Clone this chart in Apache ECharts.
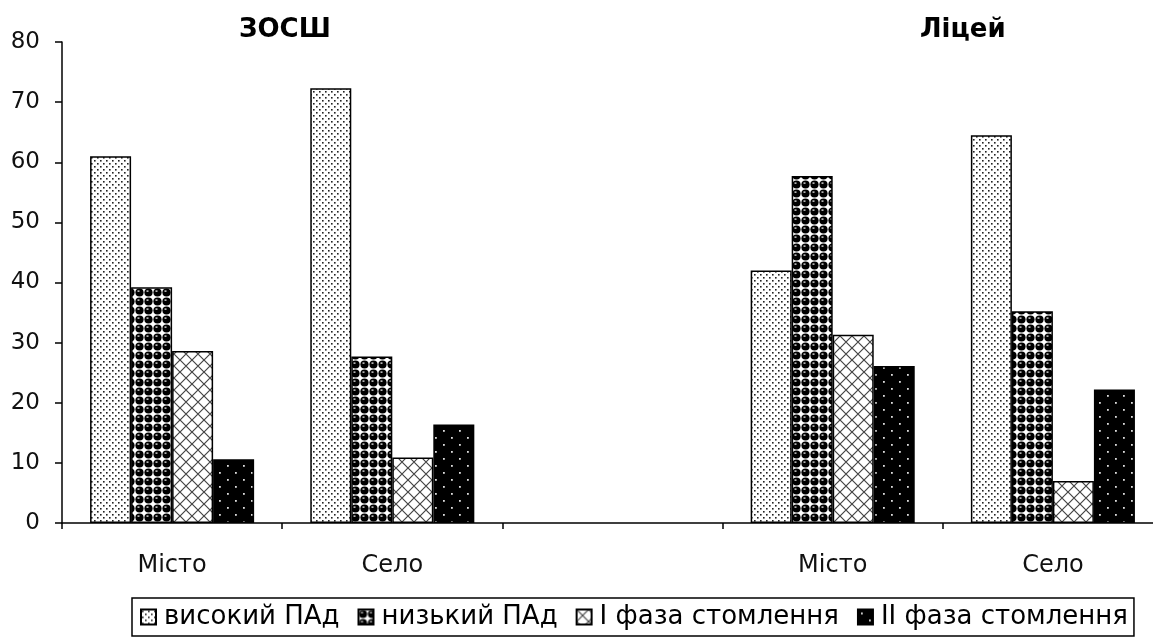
<!DOCTYPE html>
<html>
<head>
<meta charset="utf-8">
<script src="https://cdn.jsdelivr.net/npm/echarts@6/dist/echarts.min.js"></script>
<style>
html,body{margin:0;padding:0;background:#fff;}
#chart{width:1153px;height:640px;}
</style>
</head>
<body>
<div id="chart"></div>
<script>
// ---- data ----
const categories = ['Місто', 'Село', '', 'Місто', 'Село'];
const groupTitles = ['ЗОСШ', 'Ліцей'];
const seriesNames = ['високий ПАд', 'низький ПАд', 'I фаза стомлення', 'II фаза стомлення'];
const highPAd   = [61.0, 72.3, null, 42.0, 64.5];
const lowPAd    = [39.2, 27.7, null, 57.7, 35.2];
const phase1    = [28.6, 10.9, null, 31.3, 7.0];
const phase2    = [10.6, 16.4, null, 26.1, 22.2];
const yTicks    = [0, 10, 20, 30, 40, 50, 60, 70, 80];

// ---- patterns ----
function tile(w, h, draw) {
  const c = document.createElement('canvas');
  c.width = w; c.height = h;
  const g = c.getContext('2d');
  draw(g, w, h);
  return { image: c, repeat: 'repeat' };
}
const patDots = tile(6, 6, (g, w, h) => {
  g.fillStyle = '#fff'; g.fillRect(0, 0, w, h);
  g.fillStyle = '#222';
  g.fillRect(1, 1, 1.6, 1.6);
  g.fillRect(4, 4, 1.6, 1.6);
});
const patBalls = tile(9, 9, (g, w, h) => {
  g.fillStyle = '#fff'; g.fillRect(0, 0, w, h);
  g.fillStyle = '#000';
  g.beginPath(); g.arc(4.5, 4.5, 4.1, 0, Math.PI * 2); g.fill();
  g.fillStyle = '#fff';
  g.fillRect(2.5, 2.5, 2, 1.2);
});
const patCross = tile(12, 12, (g, w, h) => {
  g.fillStyle = '#fff'; g.fillRect(0, 0, w, h);
  g.strokeStyle = '#444'; g.lineWidth = 1.2;
  g.beginPath();
  g.moveTo(0, 0); g.lineTo(12, 12);
  g.moveTo(12, 0); g.lineTo(0, 12);
  g.stroke();
});
const patDark = tile(16, 14, (g, w, h) => {
  g.fillStyle = '#000'; g.fillRect(0, 0, w, h);
  g.fillStyle = '#ddd';
  g.fillRect(3, 3, 1.8, 1.8);
  g.fillRect(11, 10, 1.8, 1.8);
});
const patterns = [patDots, patBalls, patCross, patDark];
const values = [highPAd, lowPAd, phase1, phase2];

const chart = echarts.init(document.getElementById('chart'), null, { renderer: 'canvas' });
const font = 'DejaVu Sans';

chart.setOption({
  animation: false,
  backgroundColor: '#fff',
  title: [
    { text: groupTitles[0], left: 234, top: 12,
      textStyle: { fontFamily: font, fontWeight: 'bold', fontSize: 26, color: '#000' } },
    { text: groupTitles[1], left: 915, top: 12,
      textStyle: { fontFamily: font, fontWeight: 'bold', fontSize: 26, color: '#000' } }
  ],
  legend: {
    data: seriesNames,
    left: 132, bottom: 4,
    itemWidth: 15, itemHeight: 15, itemGap: 18,
    borderColor: '#000', borderWidth: 1.5, borderRadius: 0,
    padding: [6, 6, 6, 8],
    textStyle: { fontFamily: font, fontSize: 26, color: '#000', padding: [0, 0, 0, 3] },
    icon: 'rect'
  },
  grid: { left: 62, top: 42, bottom: 117, width: 1101, containLabel: false, outerBoundsMode: 'none' },
  xAxis: {
    type: 'category',
    data: categories,
    axisLine: { lineStyle: { color: '#000', width: 1.5 } },
    axisTick: { show: true, length: 6, lineStyle: { color: '#000', width: 1.5 } },
    axisLabel: { fontFamily: font, fontSize: 24, color: '#111', margin: 31 },
    splitLine: { show: false }
  },
  yAxis: {
    type: 'value', min: 0, max: 80, interval: 10,
    axisLine: { show: true, lineStyle: { color: '#000', width: 1.5 } },
    axisTick: { show: true, length: 7, lineStyle: { color: '#000', width: 1.5 } },
    axisLabel: { fontFamily: font, fontSize: 23, color: '#111', margin: 22,
      formatter: v => yTicks.includes(v) ? String(v) : '' },
    splitLine: { show: false }
  },
  series: seriesNames.map((name, i) => ({
    name, type: 'bar',
    data: values[i],
    barGap: '0%',
    barCategoryGap: '25.5%',
    itemStyle: { color: patterns[i], borderColor: '#000', borderWidth: 1.5 }
  }))
});
</script>
</body>
</html>
